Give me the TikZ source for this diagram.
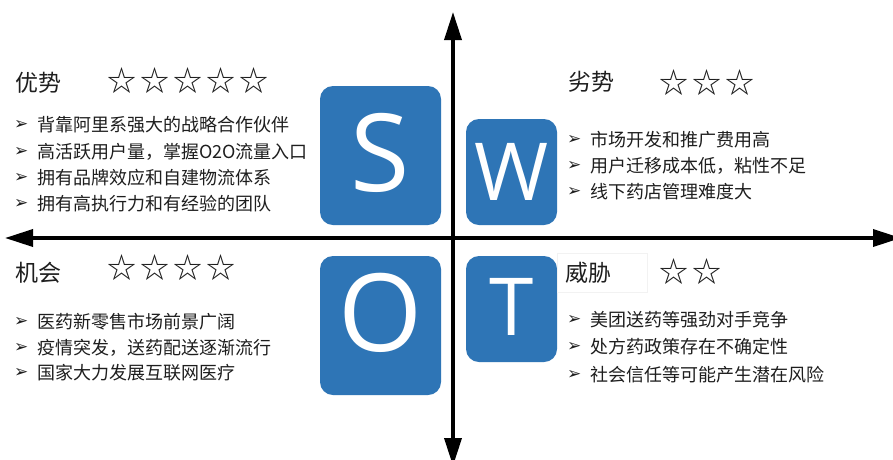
\documentclass[tikz,border=0pt]{standalone}
\usepackage{fontspec}
\setmainfont{Open Sans}
\newfontfamily\cjk{Noto Sans CJK SC}
\newfontfamily\dv{DejaVu Sans}
\usetikzlibrary{arrows.meta}
\definecolor{swotblue}{HTML}{2E75B6}
\definecolor{txt}{HTML}{1E1E1E}
\begin{document}
\begin{tikzpicture}[x=1pt,y=-1pt,
  box/.style={fill=swotblue, rounded corners=13pt, inner sep=0pt, draw=none},
  bigletter/.style={text=white, font=\fontsize{108}{108}\selectfont, anchor=base, inner sep=0pt},
  smallletter/.style={text=white, font=\fontsize{80}{80}\selectfont, anchor=base, inner sep=0pt},
  title/.style={font=\cjk\fontsize{23}{23}\selectfont, anchor=west, inner sep=0pt, text=txt},
  item/.style={font=\cjk\fontsize{18}{18}\selectfont, anchor=west, inner sep=0pt, text=txt},
  bul/.style={font=\dv\fontsize{17}{17}\selectfont, anchor=west, inner sep=0pt, text=txt},
  star/.style={font=\cjk\fontsize{29}{29}\selectfont, inner sep=0pt, text=txt},
  axis/.style={line width=3.5pt, {Triangle[length=28pt,width=17pt]}-{Triangle[length=28pt,width=17pt]}}
]
\useasboundingbox (0,0) rectangle (893,459);
\clip (0,0) rectangle (893,459);
\fill[white] (0,0) rectangle (893,459);

% axes
\coordinate (top) at (453,12);
\coordinate (bottom) at (453,466);
\coordinate (left) at (5,238);
\coordinate (right) at (901,238);
\draw[axis] (left) -- (right);
\draw[axis] (top) -- (bottom);

% SWOT boxes
\node[box, minimum width=121pt, minimum height=139pt] (S) at (380.5,155.5) {};
\node[box, minimum width=91pt, minimum height=106pt] (W) at (511.5,172) {};
\node[box, minimum width=121pt, minimum height=139pt] (O) at (380.5,325.5) {};
\node[box, minimum width=91pt, minimum height=106pt] (T) at (511.5,309) {};
\node[bigletter] (Sl) at (380.5,191) {S};
\node[smallletter] (Wl) at (511.5,200) {W};
\node[bigletter] (Ol) at (381,351) {O};
\node[smallletter] (Tl) at (511.5,335) {T};

% Strengths
\node[title] (st) at (15,83) {优势};
\foreach \i in {0,...,4} \node[star] (ss\i) at (121.5+33*\i,81) {☆};
\node[bul] (sb1) at (14,125) {➢}; \node[item] (si1) at (37,125) {背靠阿里系强大的战略合作伙伴};
\node[bul] (sb2) at (14,152) {➢}; \node[item] (si2) at (37,152) {高活跃用户量，掌握O2O流量入口};
\node[bul] (sb3) at (14,178) {➢}; \node[item] (si3) at (37,178) {拥有品牌效应和自建物流体系};
\node[bul] (sb4) at (14,204) {➢}; \node[item] (si4) at (37,204) {拥有高执行力和有经验的团队};

% Weaknesses
\node[title] (wt) at (568,82) {劣势};
\foreach \i in {0,...,2} \node[star] (ws\i) at (673.5+33*\i,83) {☆};
\node[bul] (wb1) at (567,140) {➢}; \node[item] (wi1) at (590,140) {市场开发和推广费用高};
\node[bul] (wb2) at (567,166) {➢}; \node[item] (wi2) at (590,166) {用户迁移成本低，粘性不足};
\node[bul] (wb3) at (567,192) {➢}; \node[item] (wi3) at (590,192) {线下药店管理难度大};

% Opportunities
\node[title] (ot) at (15,273) {机会};
\foreach \i in {0,...,3} \node[star] (os\i) at (121.5+33*\i,268) {☆};
\node[bul] (ob1) at (14,322) {➢}; \node[item] (oi1) at (37,322) {医药新零售市场前景广阔};
\node[bul] (ob2) at (14,348) {➢}; \node[item] (oi2) at (37,348) {疫情突发，送药配送逐渐流行};
\node[bul] (ob3) at (14,373) {➢}; \node[item] (oi3) at (37,373) {国家大力发展互联网医疗};

% Threats
\node[draw=black!5, minimum width=90pt, minimum height=39pt, inner sep=0pt] (tbox) at (602,272.5) {};
\node[title] (tt) at (565,273) {威胁};
\foreach \i in {0,...,1} \node[star] (ts\i) at (673.5+33*\i,272) {☆};
\node[bul] (tb1) at (567,320) {➢}; \node[item] (ti1) at (590,320) {美团送药等强劲对手竞争};
\node[bul] (tb2) at (567,347) {➢}; \node[item] (ti2) at (590,347) {处方药政策存在不确定性};
\node[bul] (tb3) at (567,375) {➢}; \node[item] (ti3) at (590,375) {社会信任等可能产生潜在风险};
\end{tikzpicture}
\end{document}
